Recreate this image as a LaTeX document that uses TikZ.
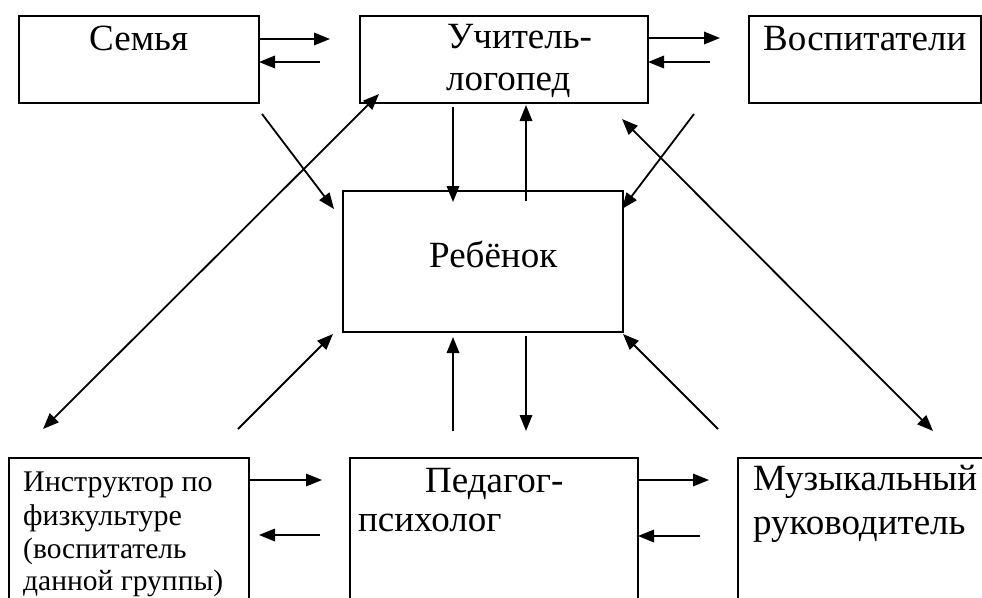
\documentclass[tikz,border=0pt]{standalone}
\usepackage{fontspec}
\setmainfont{Liberation Serif}
\usetikzlibrary{arrows.meta}
\begin{document}
\begin{tikzpicture}[x=1pt,y=-1pt,
  box/.style={draw, line width=2pt, inner sep=0pt, anchor=north west},
  txt/.style={inner sep=0pt, anchor=base west, font=\fontsize{37}{44}\selectfont},
  stxt/.style={inner sep=0pt, anchor=base west, font=\fontsize{30}{36}\selectfont},
  sstxt/.style={inner sep=0pt, anchor=base west, font=\fontsize{29.5}{35}\selectfont},
  arr/.style={line width=1.8pt, -{Triangle[length=16pt,width=12.5pt]}},
  darr/.style={line width=1.8pt, {Triangle[length=16pt,width=12.5pt]}-{Triangle[length=16pt,width=12.5pt]}}]
\useasboundingbox (0,0) rectangle (982,597);
\clip (0,0) rectangle (982,597);
\fill[white] (0,0) rectangle (982,597);
% boxes
\node[box, minimum width=240, minimum height=87] (semya) at (18,15) {};
\node[box, minimum width=288, minimum height=87] (logo) at (359,15) {};
\node[box, minimum width=232, minimum height=87] (vosp) at (748,15) {};
\node[box, minimum width=280, minimum height=141] (child) at (342,190) {};
\node[box, minimum width=240, minimum height=160] (instr) at (8,457) {};
\node[box, minimum width=288, minimum height=160] (psy) at (349,457) {};
\node[box, minimum width=260, minimum height=160] (music) at (737,457) {};
% texts
\node[txt] (t1) at (89,50) {Семья};
\node[txt] (t2) at (447,48) {Учитель-};
\node[txt] (t3) at (446,90) {логопед};
\node[txt] (t4) at (763,50) {Воспитатели};
\node[txt] (t5) at (429,267) {Ребёнок};
\node[stxt] (t6) at (23,491) {Инструктор по};
\node[stxt] (t7) at (23,525) {физкультуре};
\node[sstxt] (t8) at (23,558) {(воспитатель};
\node[sstxt] (t9) at (23,590) {данной группы)};
\node[txt] (t10) at (425,492) {Педагог-};
\node[txt] (t11) at (358,531) {психолог};
\node[txt] (t12) at (753,490) {Музыкальный};
\node[txt] (t13) at (753,534) {руководитель};
% arrow end points
\coordinate (a1s) at (258,39); \coordinate (a1e) at (330,39);
\coordinate (a2s) at (320,62); \coordinate (a2e) at (259,62);
\coordinate (a3s) at (648,38); \coordinate (a3e) at (720,38);
\coordinate (a4s) at (710,62); \coordinate (a4e) at (648,62);
\coordinate (a5s) at (248,480); \coordinate (a5e) at (322,480);
\coordinate (a6s) at (320,535); \coordinate (a6e) at (259,535);
\coordinate (a7s) at (637,480); \coordinate (a7e) at (709,480);
\coordinate (a8s) at (700,536); \coordinate (a8e) at (638,536);
\coordinate (v1s) at (453,107); \coordinate (v1e) at (453,202);
\coordinate (v2s) at (526,201); \coordinate (v2e) at (526,105);
\coordinate (v3s) at (453,431); \coordinate (v3e) at (453,337);
\coordinate (v4s) at (526,336); \coordinate (v4e) at (526,431);
\coordinate (d1s) at (262,114); \coordinate (d1e) at (334,209);
\coordinate (d2s) at (694,114); \coordinate (d2e) at (622,209);
\coordinate (d3s) at (238,429); \coordinate (d3e) at (333,334);
\coordinate (d4s) at (718,429); \coordinate (d4e) at (623,334);
\coordinate (e1s) at (43,429); \coordinate (e1e) at (379,94);
\coordinate (e2s) at (933,431); \coordinate (e2e) at (622,119);
% arrows
\draw[arr] (a1s) -- (a1e);
\draw[arr] (a2s) -- (a2e);
\draw[arr] (a3s) -- (a3e);
\draw[arr] (a4s) -- (a4e);
\draw[arr] (a5s) -- (a5e);
\draw[arr] (a6s) -- (a6e);
\draw[arr] (a7s) -- (a7e);
\draw[arr] (a8s) -- (a8e);
\draw[arr] (v1s) -- (v1e);
\draw[arr] (v2s) -- (v2e);
\draw[arr] (v3s) -- (v3e);
\draw[arr] (v4s) -- (v4e);
\draw[arr] (d1s) -- (d1e);
\draw[arr] (d2s) -- (d2e);
\draw[arr] (d3s) -- (d3e);
\draw[arr] (d4s) -- (d4e);
\draw[darr] (e1s) -- (e1e);
\draw[darr] (e2s) -- (e2e);
\end{tikzpicture}
\end{document}
